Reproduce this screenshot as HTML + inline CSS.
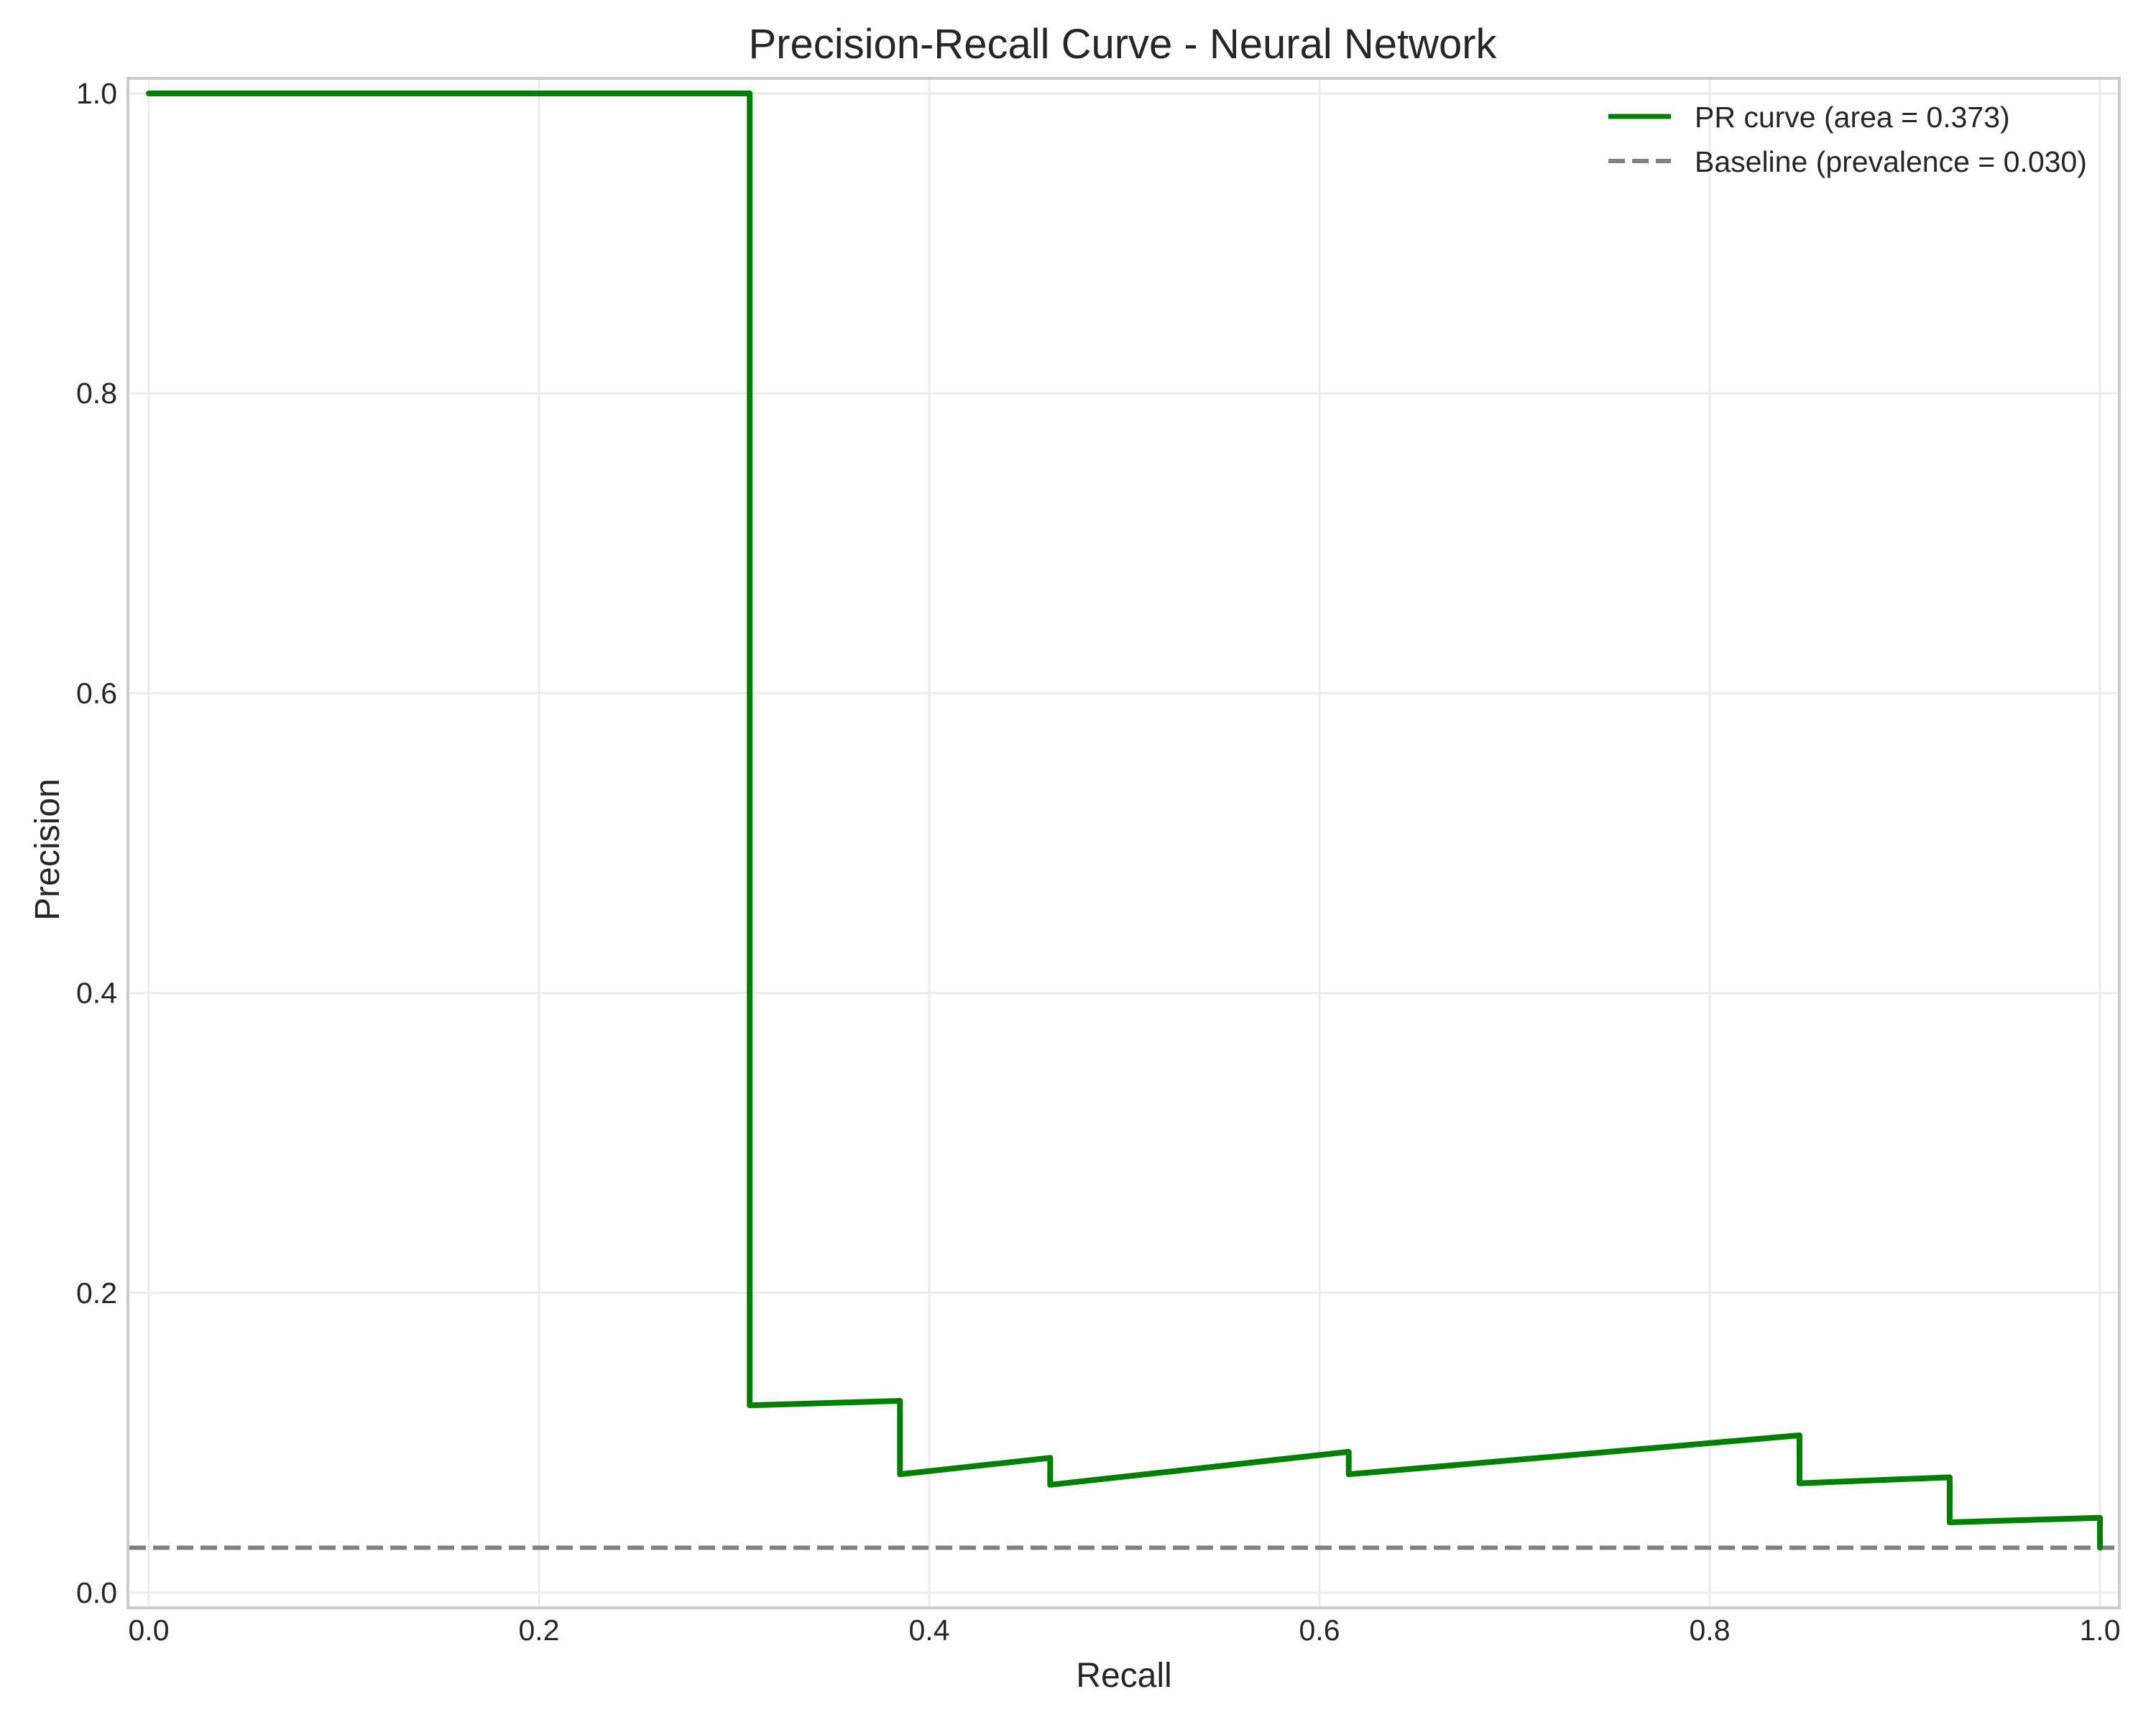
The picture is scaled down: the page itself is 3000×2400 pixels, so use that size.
<!DOCTYPE html>
<html><head><meta charset="utf-8"><style>
html,body{margin:0;padding:0;background:#fff;}
svg{display:block;font-family:"Liberation Sans",sans-serif;}
</style></head><body>
<svg id="chart" width="3000" height="2400" viewBox="0 0 3000 2400" xmlns="http://www.w3.org/2000/svg">
<rect width="3000" height="2400" fill="#fff"/>
<g id="grid"></g>
<g id="ticks"></g>
<g id="series"></g>
<rect x="178" y="109" width="2771" height="2128" fill="none" stroke="#cccccc" stroke-width="4"/>
<text x="1562" y="81" font-size="58" text-anchor="middle" fill="#262626">Precision-Recall Curve - Neural Network</text>
<text x="1564" y="2347" font-size="48" text-anchor="middle" fill="#262626">Recall</text>
<text x="0" y="0" font-size="48" text-anchor="middle" fill="#262626" transform="translate(82,1182) rotate(-90)">Precision</text>
<g>
<line x1="2238" y1="162" x2="2325" y2="162" stroke="#008000" stroke-width="7"/>
<text x="2358" y="177" font-size="41" fill="#262626">PR curve (area = 0.373)</text>
<line x1="2238" y1="224" x2="2325" y2="224" stroke="#808080" stroke-width="6" stroke-dasharray="23,10"/>
<text x="2358" y="239" font-size="41" fill="#262626">Baseline (prevalence = 0.030)</text>
</g>
</svg>
<script>
const recall = [0, 0.308, 0.308, 0.385, 0.385, 0.462, 0.462, 0.615, 0.615, 0.846, 0.846, 0.923, 0.923, 1.0, 1.0];
const precision = [1, 1, 0.125, 0.128, 0.079, 0.090, 0.072, 0.094, 0.079, 0.105, 0.073, 0.077, 0.047, 0.050, 0.03];
const baseline = [0.03];
const xTicks = [0, 0.2, 0.4, 0.6, 0.8, 1.0];
const yTicks = [0, 0.2, 0.4, 0.6, 0.8, 1.0];
const xTickLabels = ["0.0","0.2","0.4","0.6","0.8","1.0"];
const yTickLabels = ["0.0","0.2","0.4","0.6","0.8","1.0"];

const NS = "http://www.w3.org/2000/svg";
const X0 = 207, X1 = 2922, Y0 = 2216, Y1 = 130;
const L = 178, R = 2949, T = 109, B = 2237;
function sx(v){ return X0 + v * (X1 - X0); }
function sy(v){ return Y0 - v * (Y0 - Y1); }
function mk(tag, attrs, parent){ const e = document.createElementNS(NS, tag); for (const k in attrs) e.setAttribute(k, attrs[k]); parent.appendChild(e); return e; }

const grid = document.getElementById('grid');
const ticks = document.getElementById('ticks');
xTicks.forEach((v, i) => {
  const g = mk('line', {x1: sx(v), x2: sx(v), y1: T, y2: B, stroke: '#ebebeb', 'stroke-width': 3}, grid);
  
  
  const t = mk('text', {x: sx(v), y: 2282, 'font-size': 41, 'text-anchor': 'middle', fill: '#262626'}, ticks);
  t.textContent = xTickLabels[i];
  
  
});
yTicks.forEach((v, i) => {
  const g = mk('line', {x1: L, x2: R, y1: sy(v), y2: sy(v), stroke: '#ebebeb', 'stroke-width': 3}, grid);
  
  
  const t = mk('text', {x: 163, y: sy(v) + 14, 'font-size': 41, 'text-anchor': 'end', fill: '#262626'}, ticks);
  t.textContent = yTickLabels[i];
  
  
});

const series = document.getElementById('series');
const bl = mk('line', {x1: L + 2, x2: R - 2, y1: sy(baseline[0]), y2: sy(baseline[0]), stroke: '#808080', 'stroke-width': 6, 'stroke-dasharray': '23,10'}, series);



const d = recall.map((r, i) => (i ? 'L' : 'M') + sx(r).toFixed(1) + ',' + sy(precision[i]).toFixed(1)).join(' ');
const pr = mk('path', {d: d, fill: 'none', stroke: '#008000', 'stroke-width': 8, 'stroke-linejoin': 'round', 'stroke-linecap': 'round'}, series);


</script>
</body></html>
